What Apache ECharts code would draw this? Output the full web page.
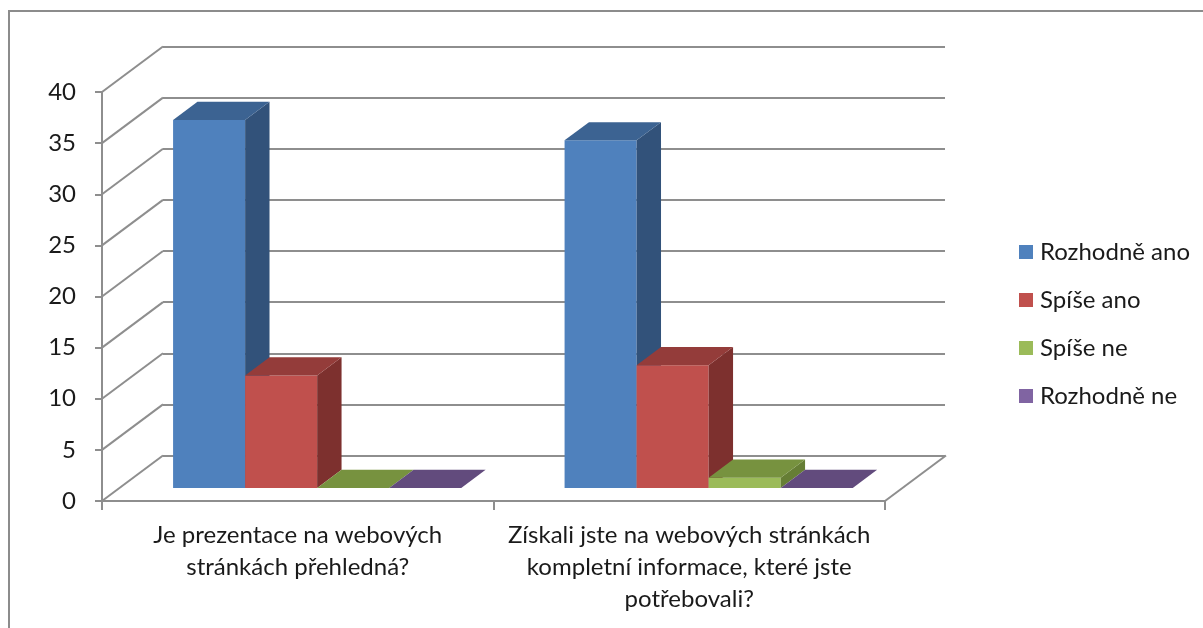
<!DOCTYPE html>
<html>
<head>
<meta charset="utf-8">
<script src="https://cdn.jsdelivr.net/npm/echarts@6/dist/echarts.min.js"></script>
<style>
  html, body { margin: 0; padding: 0; background: #fff; }
  #chart { width: 1203px; height: 628px; }
</style>
</head>
<body>
<div id="chart"></div>
<script>
const categories = [
  'Je prezentace na webových\nstránkách přehledná?',
  'Získali jste na webových stránkách\nkompletní informace, které jste\npotřebovali?'
]
const seriesNames = ['Rozhodně ano', 'Spíše ano', 'Spíše ne', 'Rozhodně ne']
const rozhodneAno = [36, 34]
const spiseAno = [11, 12]
const spiseNe = [0, 1]
const rozhodneNe = [0, 0]
const yTicks = [0, 5, 10, 15, 20, 25, 30, 35, 40]

// front / top / side shades, like the old Excel 3D look
const COLORS = [
  { front: '#4F81BD', top: '#3C6392', side: '#32527A' },
  { front: '#C0504D', top: '#943C3A', side: '#7D302E' },
  { front: '#9BBB59', top: '#77923F', side: '#667E35' },
  { front: '#8064A2', top: '#624B7D', side: '#523F69' }
]
const GRID_LINE = '#8E8E8E'
const TEXT = '#1a1a1a'
const FONT = 'Lato, "Open Sans", sans-serif'

// depth of the box: back wall offset from front plane
const DX = 61
const DY = -45.5
const BAR_FRONT = 0.286   // depth where bar front faces sit
const BAR_BACK = 0.686
const BAR_W = 0.184       // bar width as share of the category band
const GROUP_SHIFT = 0.005

const chart = echarts.init(document.getElementById('chart'))

const barSeries = (name, values, idx) => ({
  name,
  type: 'custom',
  xAxisIndex: 0,
  yAxisIndex: 0,
  itemStyle: { color: COLORS[idx].front },
  data: values.map((v, c) => [c, v]),
  renderItem: (params, api) => {
    const c = api.value(0)
    const v = api.value(1)
    const base = api.coord([c, 0])
    const topPt = api.coord([c, v])
    const band = api.size([1, 0])[0]
    const w = band * BAR_W
    const x0 = base[0] - 2 * w + band * GROUP_SHIFT + idx * w
    const x1 = x0 + w
    const fx = BAR_FRONT * DX, fy = BAR_FRONT * DY
    const bx = BAR_BACK * DX, by = BAR_BACK * DY
    const yb = base[1], yt = topPt[1]
    const col = COLORS[idx]
    return {
      type: 'group',
      children: [
        {
          type: 'polygon',
          shape: { points: [[x0 + fx, yb + fy], [x1 + fx, yb + fy], [x1 + fx, yt + fy], [x0 + fx, yt + fy]] },
          style: { fill: col.front }
        },
        {
          type: 'polygon',
          shape: { points: [[x1 + fx, yb + fy], [x1 + bx, yb + by], [x1 + bx, yt + by], [x1 + fx, yt + fy]] },
          style: { fill: col.side }
        },
        {
          type: 'polygon',
          shape: { points: [[x0 + fx, yt + fy], [x1 + fx, yt + fy], [x1 + bx, yt + by], [x0 + bx, yt + by]] },
          style: { fill: col.top }
        }
      ]
    }
  }
})

const option = {
  backgroundColor: '#ffffff',
  animation: false,
  textStyle: { fontFamily: FONT },
  graphic: [{
    type: 'rect',
    shape: { x: 9, y: 11, width: 1400, height: 800 },
    style: { fill: 'none', stroke: '#8C8C8C', lineWidth: 2 },
    z: -10
  }],
  legend: {
    data: seriesNames,
    orient: 'vertical',
    left: 1014,
    top: 235,
    itemWidth: 14,
    itemHeight: 14,
    itemGap: 24,
    icon: 'rect',
    textStyle: { color: TEXT, fontSize: 24, lineHeight: 24, fontFamily: FONT, padding: [0, 0, 0, 2] }
  },
  grid: [
    { left: 102, right: 318, top: 92, bottom: 127 },
    { left: 163, right: 258, top: 46.5, bottom: 172.5 }
  ],
  xAxis: [
    {
      gridIndex: 0,
      type: 'category',
      data: categories,
      axisLine: { lineStyle: { color: GRID_LINE, width: 2 } },
      axisTick: { show: true, length: 9, lineStyle: { color: GRID_LINE, width: 2 } },
      axisLabel: { color: TEXT, fontSize: 24, lineHeight: 32, margin: 18, interval: 0, align: 'center' }
    },
    { gridIndex: 1, type: 'category', data: categories, show: false }
  ],
  yAxis: [
    {
      gridIndex: 0,
      type: 'value',
      min: 0,
      max: 40,
      interval: 5,
      axisLine: { show: true, lineStyle: { color: GRID_LINE, width: 2 } },
      axisTick: { show: true, length: 7, lineStyle: { color: GRID_LINE, width: 2 } },
      axisLabel: { color: TEXT, fontSize: 24, margin: 26 },
      splitLine: { show: false }
    },
    {
      gridIndex: 1,
      type: 'value',
      min: 0,
      max: 40,
      interval: 5,
      axisLine: { show: false },
      axisTick: { show: false },
      axisLabel: { show: false },
      splitLine: { show: true, lineStyle: { color: GRID_LINE, width: 2 } }
    }
  ],
  series: [
    {
      // side wall diagonals + right floor edge
      type: 'custom',
      name: 'walls',
      xAxisIndex: 0,
      yAxisIndex: 0,
      silent: true,
      z: 1,
      data: yTicks.map((t) => [0, t]),
      renderItem: (params, api) => {
        const cs = params.coordSys
        const y = api.coord([0, api.value(1)])[1]
        const lines = [{
          type: 'line',
          shape: { x1: cs.x, y1: y, x2: cs.x + DX, y2: y + DY },
          style: { stroke: GRID_LINE, lineWidth: 2 }
        }]
        if (api.value(1) === 0) {
          lines.push({
            type: 'line',
            shape: { x1: cs.x + cs.width, y1: y, x2: cs.x + cs.width + DX, y2: y + DY },
            style: { stroke: GRID_LINE, lineWidth: 2 }
          })
        }
        return { type: 'group', children: lines }
      }
    },
    barSeries(seriesNames[0], rozhodneAno, 0),
    barSeries(seriesNames[1], spiseAno, 1),
    barSeries(seriesNames[2], spiseNe, 2),
    barSeries(seriesNames[3], rozhodneNe, 3)
  ]
}

chart.setOption(option)
window.addEventListener('resize', () => chart.resize())
</script>
</body>
</html>
